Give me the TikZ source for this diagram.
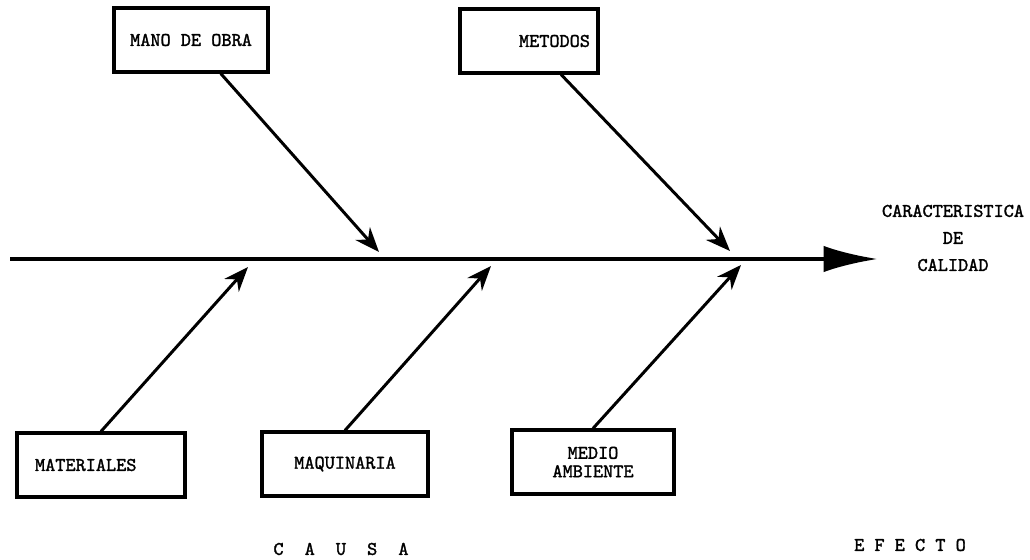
\documentclass[tikz,border=0pt]{standalone}
\usepackage{fontspec}
\setmonofont[AutoFakeBold=1.6]{Latin Modern Mono}
\usetikzlibrary{arrows.meta,positioning}
\tikzset{
  % Box round each cause
  causebox/.style={rectangle, draw, line width=1.8pt, minimum height=1.28cm,
                   inner sep=0pt, align=center,
                   font=\ttfamily\bfseries\fontsize{11}{10.5}\selectfont},
  % Branch arrows
  barr/.style={-{Stealth[length=14pt,width=11pt]}, line width=1.7pt},
  % Main spine
  spine/.style={-{Latex[length=31pt,width=15pt]}, line width=2.4pt},
  % Free text
  lbl/.style={font=\ttfamily\bfseries\fontsize{11}{15.4}\selectfont, align=center,
              inner sep=0pt},
}
\begin{document}
\begin{tikzpicture}[x=0.02cm,y=-0.02cm]
    \useasboundingbox (0,0) rectangle (1030,560);

    %% ── Spine ──────────────────────────────────────────────
    \coordinate (s0) at (10,259);
    \coordinate (s1) at (878,259);
    \draw[spine] (s0) -- (s1);

    %% ── Causes above ───────────────────────────────────────
    \node[causebox, minimum width=3.08cm] (mano) at (191,40) {MANO DE OBRA};
    \node[causebox, minimum width=2.76cm, text width=2.44cm, align=right]
         (metodos) at (529,41) {METODOS};

    %% ── Causes below ───────────────────────────────────────
    \node[causebox, minimum width=3.36cm, text width=2.64cm, align=left]
         (materiales) at (101,465) {MATERIALES};
    \node[causebox, minimum width=3.32cm] (maquinaria) at (345,464) {MAQUINARIA};
    \node[causebox, minimum width=3.24cm] (medio) at (593,462) {MEDIO\\AMBIENTE};

    %% ── Arrow tips on the spine ────────────────────────────
    \coordinate (t1) at (379,252);
    \coordinate (t2) at (730,251);
    \coordinate (b1) at (248,267);
    \coordinate (b2) at (491,266);
    \coordinate (b3) at (741,265);

    %% ── Branches ───────────────────────────────────────────
    \draw[barr] (mano) -- (t1);
    \draw[barr] (metodos) -- (t2);
    \draw[barr] (materiales.north) -- (b1);
    \draw[barr] (maquinaria.north) -- (b2);
    \draw[barr] (medio.north) -- (b3);

    %% ── Texts ──────────────────────────────────────────────
    \node[lbl] (efecto) at (953,238) {CARACTERISTICA\\DE\\CALIDAD};
    \node[lbl] (causa) at (341,549)
         {C\hspace{12pt}A\hspace{12pt}U\hspace{12pt}S\hspace{12pt}A};
    \node[lbl] (efectolbl) at (910,545) {E F E C T O};

\end{tikzpicture}
\end{document}
